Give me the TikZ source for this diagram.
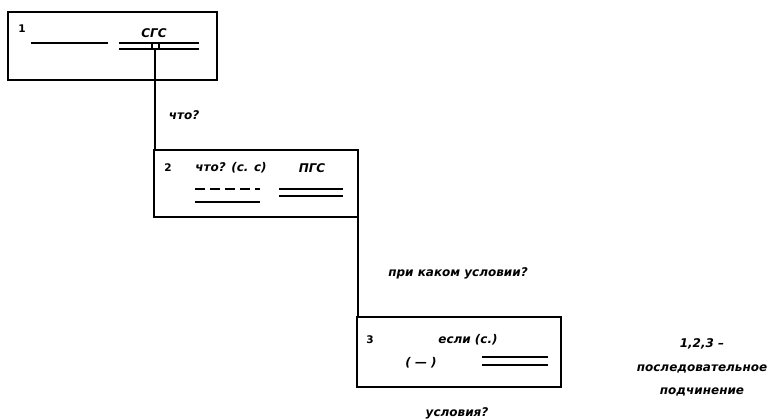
\documentclass[tikz,border=0pt]{standalone}
\usepackage{fontspec}
\setmainfont{DejaVu Sans}
\usetikzlibrary{positioning}
\tikzset{%
clause box/.style={
    draw, line width=1.3pt,
    anchor=north west,
    inner sep=0pt, outer sep=0pt
},
scheme text/.style={
    font=\bfseries\itshape\fontsize{12}{14}\selectfont,
    inner sep=0pt
},
clause num/.style={
    font=\bfseries\fontsize{10.5}{12}\selectfont,
    inner sep=0pt
},
member line/.style={line width=1.1pt},
link line/.style={line width=1.1pt},
}

\begin{document}
\begin{tikzpicture}[x=1pt, y=-1pt]
\useasboundingbox (0,0) rectangle (776,419);

% main clause
\node (box1) [clause box, minimum width=209pt, minimum height=68pt] at (8,12) {};
\node (num1) [clause num] at (22,29) {1};
\node (pred1-lbl) [scheme text] at (154,33) {СГС};
\draw [member line] (31,43) -- (108,43);
\draw [member line] (119,43) -- (199,43) (119,49) -- (199,49);
\draw [member line] (152,43) rectangle (159,49);
\coordinate (pred1) at (155,49);

% second clause
\node (box2) [clause box, minimum width=204pt, minimum height=67pt] at (154,150) {};
\node (num2) [clause num] at (168,168) {2};
\node (word2) [scheme text] at (231,168) {что? (с. с)};
\node (pred2-lbl) [scheme text] at (312,168) {ПГС};
\draw [member line, dash pattern=on 10pt off 5pt] (195,189) -- (260,189);
\draw [member line] (195,202) -- (260,202);
\draw [member line] (279,189) -- (343,189) (279,196) -- (343,196);

% third clause
\node (box3) [clause box, minimum width=204pt, minimum height=70pt] at (357,317) {};
\node (num3) [clause num] at (370,340) {3};
\node (word3) [scheme text] at (468,340) {если (с.)};
\node (subj3) [scheme text] at (421,363) {( — )};
\draw [member line] (482,357) -- (548,357) (482,365) -- (548,365);

% links
\draw [link line] (pred1) -- (pred1 |- box2.north);
\draw [link line] (box2.south east) -- (box2.south east |- box3.north);
\node (q1) [scheme text] at (184,115) {что?};
\node (q2) [scheme text] at (458,273) {при каком условии?};
\node (q3) [scheme text] at (457,413) {условия?};

% note
\node (note1) [scheme text] at (702,344) {1,2,3 –};
\node (note2) [scheme text, below=15pt of note1] {последовательное};
\node (note3) [scheme text, below=14pt of note2] {подчинение};
\end{tikzpicture}
\end{document}
